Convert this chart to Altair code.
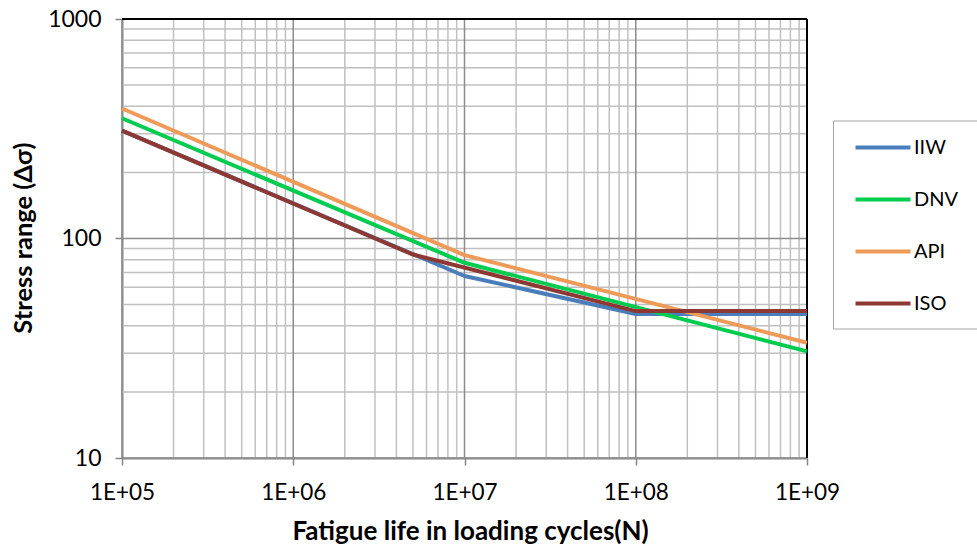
import altair as alt
import pandas as pd

# ---- data ----
series_names = ["IIW", "DNV", "API", "ISO"]
series_colors = ["#4a7ebb", "#00cc50", "#ee9a58", "#8e3834"]

iiw_N = [1e5, 1e7, 1e8, 1e9]
iiw_S = [310, 67.5, 45.3, 45.3]

dnv_N = [1e5, 1e7, 1e9]
dnv_S = [353, 77.5, 30.6]

api_N = [1e5, 1e7, 1e9]
api_S = [391, 84, 33.5]

iso_N = [1e5, 5e6, 1e8, 1e9]
iso_S = [310, 84.5, 46.7, 46.7]

x_major = [1e5, 1e6, 1e7, 1e8, 1e9]
x_tick_labels = ["1E+05", "1E+06", "1E+07", "1E+08", "1E+09"]
y_major = [10, 100, 1000]
y_tick_labels = ["10", "100", "1000"]
minor_mult = [2, 3, 4, 5, 6, 7, 8, 9]

x_minor = [m * d for d in x_major[:-1] for m in minor_mult]
y_minor = [m * d for d in y_major[:-1] for m in minor_mult]

rows = []
for name, Ns, Ss in zip(series_names, [iiw_N, dnv_N, api_N, iso_N], [iiw_S, dnv_S, api_S, iso_S]):
    for i, (n, s) in enumerate(zip(Ns, Ss)):
        rows.append({"series": name, "N": n, "S": s, "o": i})
df = pd.DataFrame(rows)

FONT = "Lato"
xscale = alt.Scale(type="log", domain=[1e5, 1e9], nice=False)
yscale = alt.Scale(type="log", domain=[10, 1000], nice=False)

x_expr = " : ".join(
    f"datum.value == {v:.0f} ? '{lab}'" for v, lab in zip(x_major, x_tick_labels)
) + " : ''"
y_expr = " : ".join(
    f"datum.value == {v} ? '{lab}'" for v, lab in zip(y_major, y_tick_labels)
) + " : ''"

x_axis = alt.Axis(
    values=x_major,
    labelExpr=x_expr,
    title="Fatigue life in loading cycles(N)",
    grid=False,
    domainColor="#868686",
    domainWidth=2,
    tickColor="#868686",
    tickWidth=1.5,
    tickSize=7,
    labelFont=FONT,
    labelFontSize=22.5,
    labelColor="#000000",
    labelPadding=16,
    labelFlush=False,
    titleFont=FONT,
    titleFontSize=26,
    titleFontWeight="bold",
    titleColor="#000000",
    titleX=348,
    titleY=81,
    titleAlign="center",
    titleBaseline="alphabetic",
)
y_axis = alt.Axis(
    values=y_major,
    labelExpr=y_expr,
    title="Stress range (Δσ)",
    grid=False,
    domainColor="#868686",
    domainWidth=2,
    tickColor="#868686",
    tickWidth=1.5,
    tickSize=7,
    labelFont=FONT,
    labelFontSize=23,
    labelColor="#000000",
    labelPadding=14,
    labelFlush=False,
    titleFont=FONT,
    titleFontSize=25.5,
    titleFontWeight="bold",
    titleColor="#000000",
    titleX=-90.5,
    titleY=218.5,
    titleAngle=-90,
    titleAlign="center",
    titleBaseline="alphabetic",
)

gx_minor = alt.Chart(pd.DataFrame({"v": x_minor})).mark_rule(color="#c0c0c0", strokeWidth=1.5).encode(
    x=alt.X("v:Q", scale=xscale, axis=x_axis)
)
gy_minor = alt.Chart(pd.DataFrame({"v": y_minor})).mark_rule(color="#c0c0c0", strokeWidth=1.5).encode(
    y=alt.Y("v:Q", scale=yscale, axis=y_axis)
)
gx_major = alt.Chart(pd.DataFrame({"v": x_major})).mark_rule(color="#8c8c8c", strokeWidth=1.5).encode(
    x=alt.X("v:Q", scale=xscale, axis=x_axis)
)
gy_major = alt.Chart(pd.DataFrame({"v": y_major})).mark_rule(color="#8c8c8c", strokeWidth=1.5).encode(
    y=alt.Y("v:Q", scale=yscale, axis=y_axis)
)
frame_top = alt.Chart(pd.DataFrame({"v": [y_major[-1]]})).mark_rule(color="#000000", strokeWidth=2).encode(
    y=alt.Y("v:Q", scale=yscale, axis=y_axis)
)
frame_right = alt.Chart(pd.DataFrame({"v": [x_major[-1]]})).mark_rule(color="#000000", strokeWidth=2).encode(
    x=alt.X("v:Q", scale=xscale, axis=x_axis)
)

lines = alt.Chart(df).mark_line(strokeWidth=4, strokeCap="butt", strokeJoin="round").encode(
    x=alt.X("N:Q", scale=xscale, axis=x_axis),
    y=alt.Y("S:Q", scale=yscale, axis=y_axis),
    color=alt.Color(
        "series:N",
        scale=alt.Scale(domain=series_names, range=series_colors),
        sort=series_names,
        legend=alt.Legend(
            title=None,
            orient="none",
            legendX=711,
            legendY=101.5,
            symbolType="M-2.75,0H2.75",
            symbolStrokeWidth=4,
            symbolSize=400,
            symbolOffset=23,
            labelFont=FONT,
            labelFontSize=20,
            labelColor="#000000",
            labelOffset=19,
            labelExpr="datum.label + '\u2800\u2800'",
            padding=15,
            rowPadding=30,
            strokeColor="#a6a6a6",
            fillColor="#ffffff",
        ),
    ),
    order=alt.Order("o:Q"),
)

chart = alt.layer(gx_minor, gy_minor, gx_major, gy_major, frame_top, frame_right, lines).properties(
    width=685,
    height=439,
    autosize=alt.AutoSizeParams(type="none"),
    padding={"left": 122, "top": 19, "right": 170, "bottom": 88},
    background="#ffffff",
).configure_view(stroke=None)

chart.save("out.html", embed_options={"renderer": "svg", "actions": False})
